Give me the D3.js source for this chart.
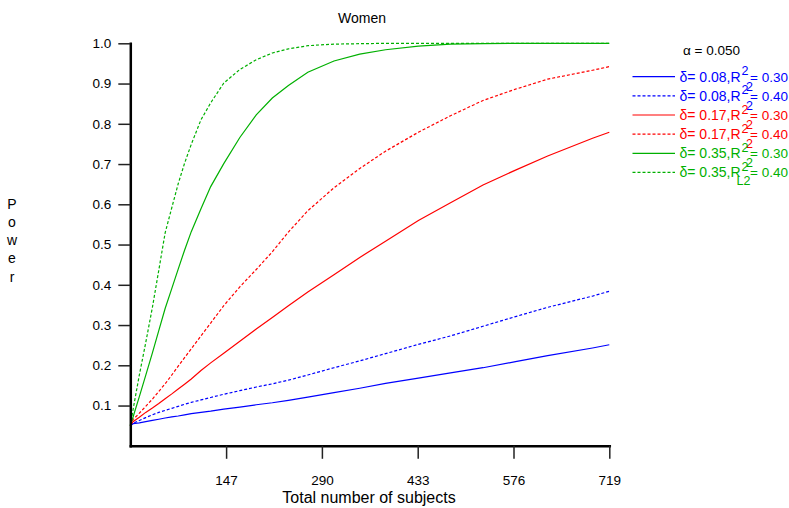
<!DOCTYPE html>
<html lang="en">
<head>
<meta charset="utf-8" />
<script src="https://cdnjs.cloudflare.com/ajax/libs/d3/7.8.5/d3.min.js"></script>
<style>
body { margin: 0; background: #fff; }
svg { font-family: "Liberation Sans", Arial, sans-serif; }
</style>
</head>
<body>
<div id="chart"></div>
<script>
// sample sizes (x) shared by all curves
const nValues = [4, 8, 17.5, 27, 37, 46.5, 56, 66, 75.5, 85, 95, 109.5, 124, 143.5, 167.5, 192, 216, 240, 269, 308, 346.5, 385, 434, 482, 530.5, 579, 627, 694, 719];

// power
const powB30 = [0.05, 0.055, 0.057, 0.060, 0.063, 0.066, 0.069, 0.072, 0.074, 0.077, 0.080, 0.083, 0.086, 0.091, 0.096, 0.102, 0.107, 0.113, 0.121, 0.132, 0.143, 0.155, 0.168, 0.181, 0.194, 0.209, 0.224, 0.243, 0.251];
const powB40 = [0.05, 0.056, 0.063, 0.070, 0.077, 0.083, 0.088, 0.093, 0.098, 0.103, 0.108, 0.114, 0.120, 0.128, 0.137, 0.146, 0.154, 0.163, 0.176, 0.194, 0.211, 0.229, 0.252, 0.273, 0.297, 0.321, 0.344, 0.372, 0.384];
const powR30 = [0.05, 0.060, 0.071, 0.083, 0.094, 0.105, 0.117, 0.129, 0.141, 0.153, 0.166, 0.187, 0.206, 0.230, 0.260, 0.290, 0.319, 0.348, 0.382, 0.425, 0.468, 0.508, 0.560, 0.604, 0.648, 0.685, 0.720, 0.764, 0.779];
const powR40 = [0.05, 0.065, 0.081, 0.098, 0.116, 0.135, 0.154, 0.176, 0.198, 0.219, 0.241, 0.273, 0.305, 0.348, 0.395, 0.438, 0.482, 0.531, 0.584, 0.641, 0.689, 0.732, 0.779, 0.820, 0.858, 0.886, 0.911, 0.933, 0.942];
const powG30 = [0.05, 0.071, 0.122, 0.175, 0.231, 0.286, 0.341, 0.391, 0.439, 0.486, 0.532, 0.589, 0.644, 0.701, 0.766, 0.822, 0.864, 0.895, 0.928, 0.956, 0.973, 0.984, 0.993, 0.998, 0.999, 1.0, 1.0, 1.0, 1.0];
const powG40 = [0.05, 0.089, 0.176, 0.256, 0.344, 0.436, 0.529, 0.592, 0.651, 0.702, 0.749, 0.810, 0.852, 0.901, 0.935, 0.959, 0.976, 0.986, 0.994, 0.998, 0.999, 1.0, 1.0, 1.0, 1.0, 1.0, 1.0, 1.0, 1.0];

const deltaLabels = ["0.08", "0.08", "0.17", "0.17", "0.35", "0.35"];
const r2Labels = ["0.30", "0.40", "0.30", "0.40", "0.30", "0.40"];
const subLabels = ["2", "2", "2", "2", "2", "L2"];
const seriesColors = ["#0000ff", "#0000ff", "#ff0000", "#ff0000", "#00b000", "#00b000"];
const seriesDashed = [false, true, false, true, false, true];

const xTicks = [147, 290, 433, 576, 719];
const yTicks = [0.1, 0.2, 0.3, 0.4, 0.5, 0.6, 0.7, 0.8, 0.9, 1.0];
const alphaLabel = "\u03b1 = 0.050";

const width = 789;
const height = 508;

const series = [powB30, powB40, powR30, powR40, powG30, powG40].map((vals, i) => ({
    values: vals.map((p, j) => ({ n: nValues[j], p: p })),
    color: seriesColors[i],
    dashed: seriesDashed[i],
    delta: deltaLabels[i],
    r2: r2Labels[i],
    sub: subLabels[i]
}));

const svg = d3.select('#chart')
    .append('svg')
    .attr('width', width)
    .attr('height', height);

const x = d3.scaleLinear().domain([4, 719]).range([130.3, 609.3]);
const y = d3.scaleLinear().domain([0, 1]).range([445.8, 43.3]);

// curves
const line = d3.line().x(d => x(d.n)).y(d => y(d.p));
svg.append('g')
    .selectAll('path')
    .data(series)
    .enter()
    .append('path')
    .attr('d', d => line(d.values))
    .attr('fill', 'none')
    .attr('stroke', d => d.color)
    .attr('stroke-width', 1.2)
    .attr('stroke-dasharray', d => d.dashed ? '3,2' : null);

// axes
const xAxis = svg.append('g')
    .attr('transform', `translate(0, ${y(0)})`)
    .call(d3.axisBottom(x).tickValues(xTicks).tickSize(13).tickSizeOuter(0).tickPadding(17));
const yAxis = svg.append('g')
    .attr('transform', `translate(${x(4)}, 0)`)
    .call(d3.axisLeft(y).tickValues(yTicks).tickSize(12).tickSizeOuter(0).tickPadding(7).tickFormat(d3.format('.1f')));

[xAxis, yAxis].forEach(g => {
    g.attr('font-family', null).attr('font-size', 13.5);
    g.select('.domain').attr('stroke', '#000').attr('stroke-width', 2.5).attr('stroke-linecap', 'square');
    g.selectAll('.tick line').attr('stroke', '#222').attr('stroke-width', 1.5);
    g.selectAll('.tick text').attr('fill', '#000');
});

// titles
svg.append('text')
    .attr('x', 362).attr('y', 23)
    .attr('text-anchor', 'middle')
    .attr('font-size', 14)
    .text('Women');

svg.append('text')
    .attr('x', 369).attr('y', 503)
    .attr('text-anchor', 'middle')
    .attr('font-size', 16)
    .text('Total number of subjects');

svg.append('g')
    .selectAll('text')
    .data('Power'.split(''))
    .enter()
    .append('text')
    .attr('x', 12)
    .attr('y', (d, i) => 208.5 + i * 18.3)
    .attr('text-anchor', 'middle')
    .attr('font-size', 14)
    .text(d => d);

// legend
svg.append('text')
    .attr('x', 683).attr('y', 54.5)
    .attr('font-size', 13.5)
    .text(alphaLabel);

const rowY = i => 76.7 + i * 19.15;
const legend = svg.append('g');
series.forEach((s, i) => {
    const ry = rowY(i);
    legend.append('line')
        .attr('x1', 632.5).attr('x2', 675)
        .attr('y1', ry).attr('y2', ry)
        .attr('stroke', s.color)
        .attr('stroke-width', 1.2)
        .attr('stroke-dasharray', s.dashed ? '3,2' : null);

    const main = legend.append('text')
        .attr('x', 679.5).attr('y', ry + 4.8)
        .attr('font-size', 14)
        .attr('fill', s.color)
        .text(`\u03b4= ${s.delta},R`);
    const xe = 679.5 + main.node().getComputedTextLength();

    legend.append('text')
        .attr('x', xe + 1).attr('y', ry - 1.5)
        .attr('font-size', 12.5)
        .attr('fill', s.color)
        .text('2');
    if (s.sub === '2') {
        legend.append('text')
            .attr('x', xe + 5.5).attr('y', ry + 14)
            .attr('font-size', 12.5)
            .attr('fill', s.color)
            .text(s.sub);
    } else {
        legend.append('text')
            .attr('x', xe - 4).attr('y', ry + 12.5)
            .attr('font-size', 12.5)
            .attr('fill', s.color)
            .text(s.sub);
    }
    legend.append('text')
        .attr('x', xe + 9.5).attr('y', ry + 4.8)
        .attr('font-size', 13.5)
        .attr('fill', s.color)
        .text(`= ${s.r2}`);
});
</script>
</body>
</html>
